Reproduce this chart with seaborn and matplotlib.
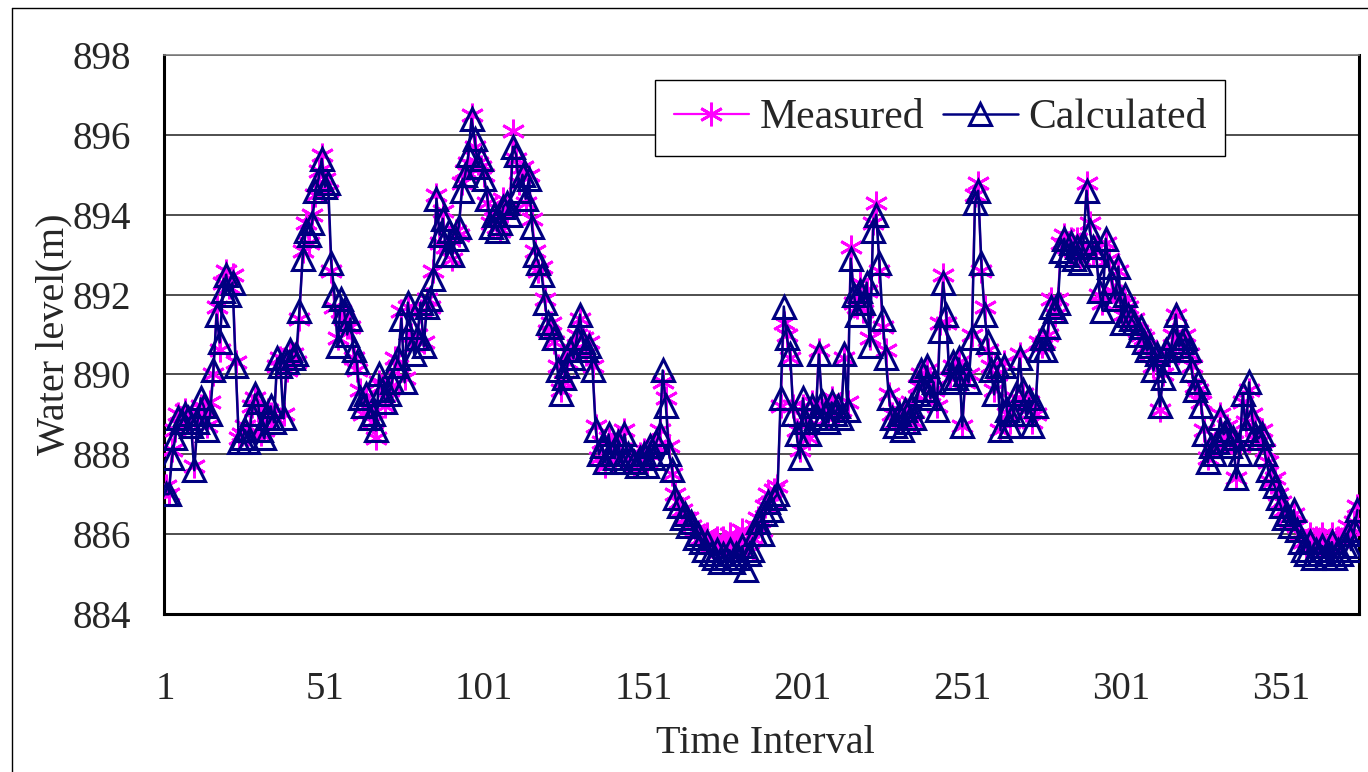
import matplotlib
matplotlib.use("Agg")
import matplotlib.pyplot as plt
from matplotlib.lines import Line2D
import seaborn as sns
import numpy as np
import pandas as pd

calculated = [
    887.0, 887.0, 887.9, 888.4, 888.9, 888.8, 889.0, 888.9, 888.7, 887.6,
    888.8, 889.4, 889.2, 888.6, 889.0, 890.1, 891.5, 890.8, 892.1, 892.5,
    892.0, 892.3, 890.2, 888.3, 888.4, 888.6, 888.3, 889.0, 889.5, 889.3,
    888.6, 888.4, 888.9, 889.2, 888.8, 890.4, 890.2, 888.9, 890.3, 890.6,
    890.4, 890.5, 891.6, 892.9, 893.6, 893.5, 893.8, 894.6, 894.9, 895.4,
    894.7, 894.8, 892.8, 892.0, 890.7, 891.9, 891.6, 891.0, 891.4, 890.6,
    890.3, 889.4, 889.2, 889.5, 888.9, 889.0, 888.6, 890.0, 889.6, 889.3,
    889.5, 889.8, 890.2, 890.4, 891.4, 889.8, 891.8, 891.2, 890.5, 890.9,
    891.8, 890.7, 891.7, 891.9, 892.4, 894.4, 893.5, 893.9, 893.0, 893.6,
    893.0, 893.4, 893.7, 894.6, 895.0, 895.5, 896.4, 895.9, 895.2, 895.4,
    894.9, 894.4, 893.7, 894.0, 893.6, 893.8, 894.2, 894.3, 894.0, 895.7,
    895.5, 894.6, 895.0, 894.4, 894.9, 893.7, 893.0, 892.8, 892.5, 891.8,
    891.3, 891.2, 890.9, 890.1, 889.5, 889.9, 890.2, 890.6, 890.4, 890.9,
    891.5, 890.8, 890.6, 890.7, 890.1, 888.6, 888.0, 888.2, 887.8, 888.5,
    888.0, 887.9, 888.3, 887.8, 888.5, 888.0, 887.9, 887.8, 887.7, 887.9,
    888.0, 887.7, 888.2, 887.9, 888.3, 888.5, 890.1, 889.2, 888.0, 887.6,
    886.9, 886.7, 886.4, 886.5, 886.2, 886.3, 885.9, 886.0, 885.8, 885.6,
    885.8, 885.5, 885.4, 885.6, 885.3, 885.5, 885.4, 885.6, 885.3, 885.5,
    885.4, 885.7, 885.1, 885.5, 885.6, 886.0, 886.3, 886.0, 886.5, 886.8,
    886.6, 886.9, 887.0, 889.4, 891.7, 890.9, 890.5, 889.0, 888.5, 887.9,
    889.4, 888.8, 888.5, 889.2, 888.9, 890.5, 889.3, 889.0, 888.8, 889.3,
    889.0, 889.2, 888.9, 890.5, 889.1, 892.9, 892.0, 891.5, 892.1, 891.8,
    892.3, 890.7, 893.6, 894.0, 892.8, 891.4, 890.4, 889.4, 888.9, 888.7,
    889.0, 888.6, 889.1, 888.8, 889.2, 888.9, 889.5, 890.1, 889.6, 890.2,
    889.4, 889.8, 889.1, 891.1, 892.3, 891.5, 889.8, 890.3, 889.9, 890.4,
    888.7, 890.0, 889.8, 890.9, 894.3, 894.6, 892.8, 891.5, 890.8, 890.1,
    889.5, 890.2, 888.6, 890.2, 889.1, 888.7, 889.0, 889.5, 890.4, 889.6,
    889.0, 889.4, 888.7, 889.2, 890.6, 890.9, 890.6, 891.2, 891.7, 891.6,
    891.8, 893.1, 893.4, 893.0, 893.3, 892.9, 893.2, 892.8, 893.3, 894.6,
    893.6, 893.2, 893.0, 892.1, 891.6, 893.4, 892.7, 892.3, 891.9, 892.7,
    891.3, 892.0, 891.5, 891.4, 891.3, 891.0, 891.2, 890.8, 890.6, 890.7,
    890.1, 890.5, 889.2, 889.9, 890.6, 890.3, 890.9, 891.5, 890.7, 890.8,
    890.9, 890.6, 890.1, 889.6, 889.8, 889.2, 888.5, 887.8, 888.2, 888.0,
    888.3, 888.9, 888.5, 888.6, 888.2, 888.4, 887.4, 888.0, 889.5, 888.6,
    889.8, 888.9, 888.5, 888.4, 888.5, 888.0, 887.6, 887.4, 887.2, 886.9,
    886.7, 886.4, 886.5, 886.2, 886.6, 886.1, 885.8, 885.6, 885.5, 885.8,
    885.4, 885.6, 885.5, 885.7, 885.4, 885.5, 885.8, 885.4, 885.6, 885.5,
    885.7, 886.0, 885.6, 886.1, 886.6,
]

measured = [
    887.2, 887.0, 888.1, 888.6, 889.0, 888.7, 889.1, 888.8, 888.9, 887.7,
    888.9, 889.2, 889.1, 888.7, 889.3, 890.0, 891.7, 890.6, 892.3, 892.6,
    892.2, 892.5, 890.3, 888.4, 888.5, 888.7, 888.5, 889.2, 889.4, 889.1,
    888.5, 888.6, 889.1, 889.0, 888.9, 890.2, 890.4, 889.0, 890.1, 890.5,
    890.5, 890.3, 891.4, 893.1, 893.8, 893.3, 894.0, 894.5, 895.1, 895.5,
    894.9, 894.6, 892.6, 891.7, 890.9, 891.6, 891.4, 891.2, 891.2, 890.4,
    890.1, 889.6, 889.0, 889.4, 889.1, 888.8, 888.4, 889.8, 889.7, 889.2,
    889.6, 889.7, 890.4, 890.2, 891.6, 889.9, 891.7, 891.0, 890.7, 891.0,
    891.6, 890.8, 891.9, 891.7, 892.6, 894.5, 893.3, 894.1, 893.2, 893.4,
    892.9, 893.6, 893.5, 894.8, 895.1, 895.3, 896.5, 895.7, 895.3, 895.2,
    895.0, 894.3, 893.8, 893.9, 893.7, 893.6, 894.4, 894.1, 894.2, 896.1,
    895.4, 894.8, 895.2, 894.3, 895.0, 893.9, 893.1, 892.6, 892.7, 891.9,
    891.1, 891.3, 890.8, 890.2, 889.6, 889.8, 890.3, 890.5, 890.6, 891.0,
    891.4, 890.9, 890.5, 890.8, 890.2, 888.7, 887.9, 888.3, 887.7, 888.4,
    888.2, 887.8, 888.4, 887.9, 888.6, 887.9, 888.0, 887.7, 887.8, 888.0,
    888.1, 887.8, 888.0, 888.1, 888.2, 888.6, 889.8, 889.4, 888.2, 887.5,
    887.0, 886.8, 886.6, 886.4, 886.4, 886.2, 886.1, 886.0, 885.9, 885.9,
    886.0, 885.7, 885.8, 885.9, 885.6, 885.9, 885.7, 886.0, 885.6, 885.9,
    885.8, 886.1, 885.5, 885.8, 885.9, 886.2, 886.4, 886.1, 886.7, 887.0,
    886.8, 887.1, 887.2, 889.2, 891.3, 891.0, 890.4, 889.2, 888.6, 888.1,
    889.2, 888.9, 888.4, 889.3, 889.0, 890.6, 889.1, 889.2, 888.9, 889.4,
    889.1, 889.0, 889.1, 890.4, 889.3, 893.2, 891.8, 891.7, 892.3, 891.6,
    892.1, 890.9, 893.8, 894.3, 892.6, 891.2, 890.6, 889.5, 889.0, 888.8,
    889.1, 888.8, 889.0, 888.9, 889.3, 888.8, 889.7, 890.0, 889.8, 890.1,
    889.5, 889.6, 889.2, 891.3, 892.5, 891.3, 889.9, 890.2, 890.1, 890.3,
    888.7, 889.8, 890.0, 891.0, 894.5, 894.8, 892.6, 891.7, 890.6, 890.2,
    889.6, 890.0, 888.6, 890.3, 889.0, 888.8, 889.2, 889.4, 890.5, 889.5,
    889.1, 889.3, 888.8, 889.0, 890.8, 890.7, 890.8, 891.0, 891.9, 891.5,
    891.9, 893.3, 893.5, 893.2, 893.4, 893.1, 893.4, 892.9, 893.2, 894.8,
    893.8, 893.0, 893.2, 892.0, 891.8, 893.3, 892.9, 892.1, 892.0, 892.6,
    891.5, 891.8, 891.7, 891.3, 891.4, 891.1, 891.0, 890.9, 890.7, 890.5,
    890.2, 890.4, 889.1, 890.0, 890.5, 890.4, 891.0, 891.5, 890.8, 890.7,
    891.0, 890.5, 890.2, 889.7, 889.6, 889.3, 888.6, 887.9, 888.1, 888.2,
    888.2, 889.0, 888.4, 888.7, 888.3, 888.3, 887.4, 888.2, 889.3, 888.8,
    889.6, 889.0, 888.6, 888.3, 888.6, 888.1, 887.8, 887.3, 887.4, 887.0,
    886.8, 886.6, 886.4, 886.3, 886.5, 886.2, 886.0, 885.8, 885.7, 886.0,
    885.7, 885.9, 885.8, 886.0, 885.6, 885.8, 886.0, 885.7, 885.9, 885.8,
    886.0, 886.2, 885.9, 886.3, 886.7,
]

time_interval = list(range(1, len(calculated) + 1))
x_tick_labels = ["1", "51", "101", "151", "201", "251", "301", "351"]
y_ticks = [884, 886, 888, 890, 892, 894, 896, 898]

sns.set_style("white")
plt.rcParams['font.family'] = ['Liberation Serif', 'DejaVu Serif']

fig = plt.figure(figsize=(13.68, 7.72), dpi=100)
ax = fig.add_axes([164/1368, 1-614/772, (1359-164)/1368, (614-55)/772])

df = pd.DataFrame({"t": time_interval, "Measured": measured, "Calculated": calculated})

sns.lineplot(data=df, x="t", y="Measured", ax=ax, color="#FF00FF", linewidth=1.6,
             marker=(6, 2, 0), markersize=17, markeredgecolor="#FF00FF",
             markeredgewidth=2.0, label="Measured", zorder=3)
sns.lineplot(data=df, x="t", y="Calculated", ax=ax, color="#000080", linewidth=1.8,
             marker="^", markersize=16, markerfacecolor="none", markeredgecolor="#000080",
             markeredgewidth=2.2, label="Calculated", zorder=4)

ax.set_xlim(0.5, len(calculated) + 0.5)
ax.set_ylim(884, 898)
ax.set_yticks(y_ticks)
ax.set_yticklabels([str(v) for v in y_ticks])
ax.set_xticks([int(s) for s in x_tick_labels])
ax.set_xticklabels(x_tick_labels)
ax.set_xticks(np.arange(10.5, len(calculated), 10), minor=True)

ax.tick_params(axis='x', which='major', length=0, pad=41, labelsize=28)
ax.tick_params(axis='x', which='minor', direction='in', length=9, width=1.2, color='black')
ax.tick_params(axis='y', which='major', direction='in', length=9, width=1.2, pad=24, labelsize=28)

ax.grid(axis='y', color='#303030', linewidth=1.2)
ax.grid(axis='x', visible=False)
ax.set_axisbelow(True)

for side in ['left', 'bottom', 'right']:
    ax.spines[side].set_color('black')
    ax.spines[side].set_linewidth(2.2)
ax.spines['top'].set_color('#808080')
ax.spines['top'].set_linewidth(1.2)

ax.set_xlabel("Time Interval", fontsize=29)
ax.set_ylabel("Water level(m)", fontsize=29)
ax.xaxis.set_label_coords(0.503, -0.199)
ax.yaxis.set_label_coords(-0.077, 0.5)

leg = ax.legend(loc='upper left', bbox_to_anchor=(0.411, 0.955), borderaxespad=0,
                ncol=2, fontsize=30, frameon=True, fancybox=False, framealpha=1,
                edgecolor='black', handlelength=1.8, columnspacing=0.45,
                handletextpad=0.25, borderpad=0.45)
leg.get_frame().set_linewidth(1.0)

fig.add_artist(Line2D([12/1368, 12/1368], [0, 1-8/772], transform=fig.transFigure,
                      color='black', linewidth=1.0))
fig.add_artist(Line2D([12/1368, 1], [1-8/772, 1-8/772], transform=fig.transFigure,
                      color='black', linewidth=1.0))

fig.savefig("out.png", dpi=100, facecolor="white")
